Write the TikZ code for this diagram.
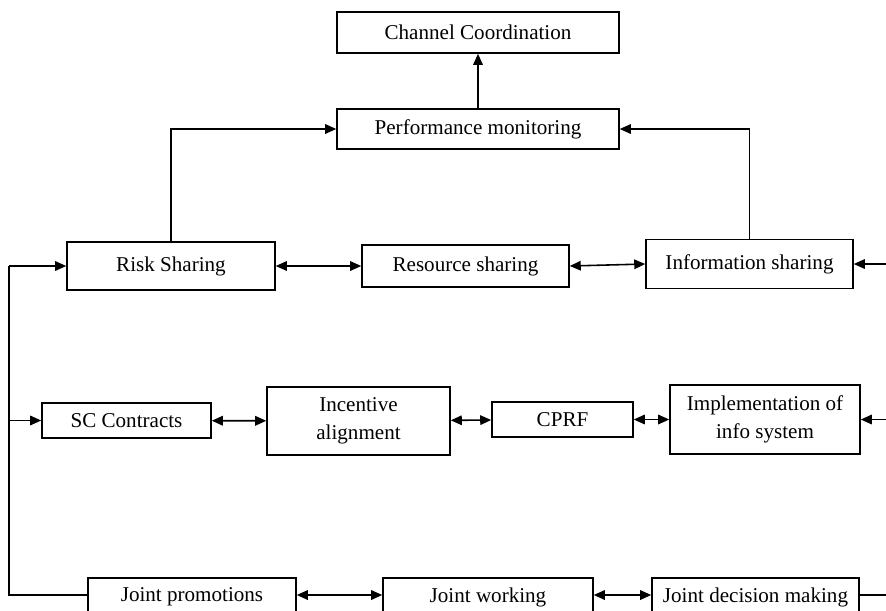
\documentclass[tikz,border=0pt]{standalone}
\usepackage{fontspec}
\setmainfont{Liberation Serif}
\usetikzlibrary{arrows.meta}

\begin{document}
\begin{tikzpicture}[x=0.02cm,y=-0.02cm,
  box/.style={draw,line width=0.9pt,inner sep=0pt,align=center,
    font=\fontsize{12}{16}\selectfont},
  link/.style={line width=0.9pt},
  arr/.style={link,-{Triangle[length=2.2mm,width=1.9mm]}},
  darr/.style={link,{Triangle[length=2.2mm,width=1.9mm]}-{Triangle[length=2.2mm,width=1.9mm]}}]
\clip (0,0) rectangle (886,610);

% Top
\node[box,minimum width=5.64cm,minimum height=0.82cm] (chan) at (478,32.5) {Channel Coordination};
\node[box,minimum width=5.64cm,minimum height=0.80cm] (perf) at (478,129) {Performance monitoring};

% Sharing row
\node[box,minimum width=4.16cm,minimum height=0.96cm] (risk) at (171,266) {Risk Sharing};
\node[box,minimum width=4.14cm,minimum height=0.84cm] (res) at (465.5,266) {Resource sharing};
\node[box,minimum width=4.14cm,minimum height=0.98cm] (info) at (749.5,264) {Information sharing};

% Middle row
\node[box,minimum width=3.38cm,minimum height=0.70cm] (sc) at (126.5,420.5) {SC Contracts};
\node[box,minimum width=3.66cm,minimum height=1.36cm] (inc) at (358.5,421) {Incentive\\alignment};
\node[box,minimum width=2.82cm,minimum height=0.70cm] (cprf) at (562.5,419.5) {CPRF};
\node[box,minimum width=3.80cm,minimum height=1.38cm] (impl) at (765,419.5) {Implementation of\\info system};

% Bottom row
\node[box,minimum width=4.16cm,minimum height=0.76cm] (jp) at (192,597) {Joint promotions};
\node[box,minimum width=4.20cm,minimum height=0.76cm] (jw) at (488,597) {Joint working};
\node[box,minimum width=4.14cm,minimum height=0.76cm] (jd) at (755.5,597) {Joint decision making};

% Edges of the page
\coordinate (lt) at (9,266);
\coordinate (lb) at (9,595);
\coordinate (redge) at (886,0);

% Connections
\draw[arr] (perf) -- (chan);
\draw[arr] (risk.north) |- (perf.west);
\draw[arr] (info.north) |- (perf.east);
\draw[darr] (risk) -- (res);
\draw[darr] (res.east) -- (info.west);
\draw[darr] (sc) -- (inc);
\draw[darr] (inc) -- (cprf);
\draw[darr] (cprf) -- (impl);
\draw[darr] ([yshift=0.04cm]jp.east) -- ([yshift=0.04cm]jw.west);
\draw[darr] ([yshift=0.04cm]jw.east) -- ([yshift=0.04cm]jd.west);

% Left bus
\draw[link] (jp.west |- lb) -- (lb) -- (lt);
\draw[arr] (lt) -- (risk.west);
\draw[arr] (sc.west -| lt) -- (sc.west);

% Right bus
\draw[arr] (info.east -| redge) -- (info.east);
\draw[arr] (impl.east -| redge) -- (impl.east);
\draw[link] (jd.east |- lb) -- (lb -| redge);
\end{tikzpicture}
\end{document}
